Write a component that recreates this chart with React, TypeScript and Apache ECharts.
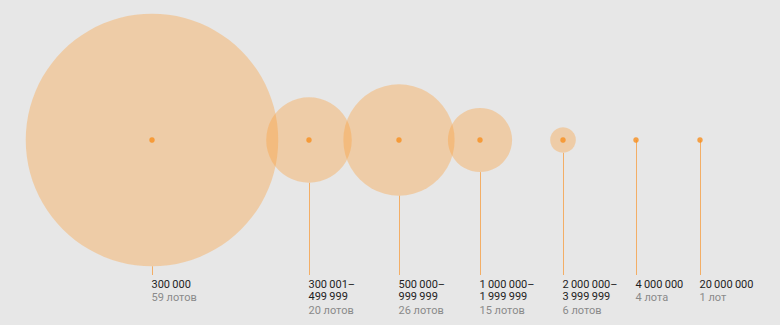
import React, { useEffect, useRef } from "react";
import * as echarts from "echarts";

// ---- data ----
const rangeLabels = [
  "300\u2009000",
  "300\u2009001–\n499\u2009999",
  "500\u2009000–\n999\u2009999",
  "1\u2009000\u2009000–\n1\u2009999\u2009999",
  "2\u2009000\u2009000–\n3\u2009999\u2009999",
  "4\u2009000\u2009000",
  "20\u2009000\u2009000",
];
const lotLabels = ["59 лотов", "20 лотов", "26 лотов", "15 лотов", "6 лотов", "4 лота", "1 лот"];
const lotCounts = [59, 20, 26, 15, 6, 4, 1];
// bubble value per slot (0 = no bubble drawn)
const bubbleLots = [59, 20, 26, 15, 6, 0, 0];

// ---- layout ----
const slotX = [152, 309, 399, 480, 563, 636, 700];
const CY = 140;
const STEM_END = 275;
const PX_PER_LOT = 2.14;

export default function App() {
  const ref = useRef<HTMLDivElement>(null);
  useEffect(() => {
    if (!ref.current) return;
    const chart = echarts.init(ref.current, undefined, { renderer: "svg" });
    const font = "Roboto, 'Noto Sans', sans-serif";
    const bubbleData = slotX
      .map((x, i) => [x, CY, bubbleLots[i]])
      .filter((d) => d[2] > 0);
    const stemData = slotX.map((x, i) => [x, bubbleLots[i], lotCounts[i]]);
    chart.setOption({
      animation: false,
      backgroundColor: "#e7e7e7",
      grid: { left: 0, right: 0, top: 0, bottom: 0 },
      xAxis: { type: "value", min: 0, max: 780, show: false },
      yAxis: { type: "value", min: 0, max: 325, inverse: true, show: false },
      series: [
        {
          type: "scatter",
          data: bubbleData,
          symbol: "circle",
          symbolSize: (v: number[]) => v[2] * PX_PER_LOT * 2,
          itemStyle: { color: "rgba(251,158,55,0.45)" },
          silent: true,
          z: 1,
        },
        {
          type: "custom",
          data: stemData,
          silent: true,
          z: 2,
          renderItem: (params: any, api: any) => {
            const i = params.dataIndex;
            const x = api.value(0);
            const b = api.value(1);
            const c = api.coord([x, CY]);
            const e = api.coord([x, STEM_END]);
            const px = Math.round(c[0]) + 0.5;
            const startY = c[1] + b * PX_PER_LOT;
            const lines = rangeLabels[i].split("\n");
            const multi = lines.length > 1;
            const txt =
              lines.map((s) => `{a|${s}}`).join("\n") +
              "\n" +
              `{${multi ? "c" : "b"}|${lotLabels[i]}}`;
            return {
              type: "group",
              children: [
                {
                  type: "line",
                  shape: { x1: px, y1: startY, x2: px, y2: e[1] },
                  style: { stroke: "#f3ae66", lineWidth: 1 },
                },
                {
                  type: "text",
                  x: Math.round(c[0]) - 0.5,
                  y: e[1] + 3,
                  style: {
                    text: txt,
                    align: "left",
                    verticalAlign: "top",
                    fontFamily: font,
                    fontSize: 11,
                    rich: {
                      a: { fontFamily: font, fontSize: 11, lineHeight: 12, fill: "#1e1e1e" },
                      b: { fontFamily: font, fontSize: 11, lineHeight: 14, fill: "#8a8a8a" },
                      c: { fontFamily: font, fontSize: 11, lineHeight: 16, fill: "#8a8a8a" },
                    },
                  },
                },
              ],
            };
          },
        },
        {
          type: "scatter",
          data: slotX.map((x) => [x, CY]),
          symbol: "circle",
          symbolSize: 5.5,
          itemStyle: { color: "#f78f1e" },
          silent: true,
          z: 3,
        },
      ],
    });
    return () => chart.dispose();
  }, []);
  return (
    <div
      ref={ref}
      style={{ position: "fixed", left: 0, top: 0, width: 780, height: 325 }}
    />
  );
}
